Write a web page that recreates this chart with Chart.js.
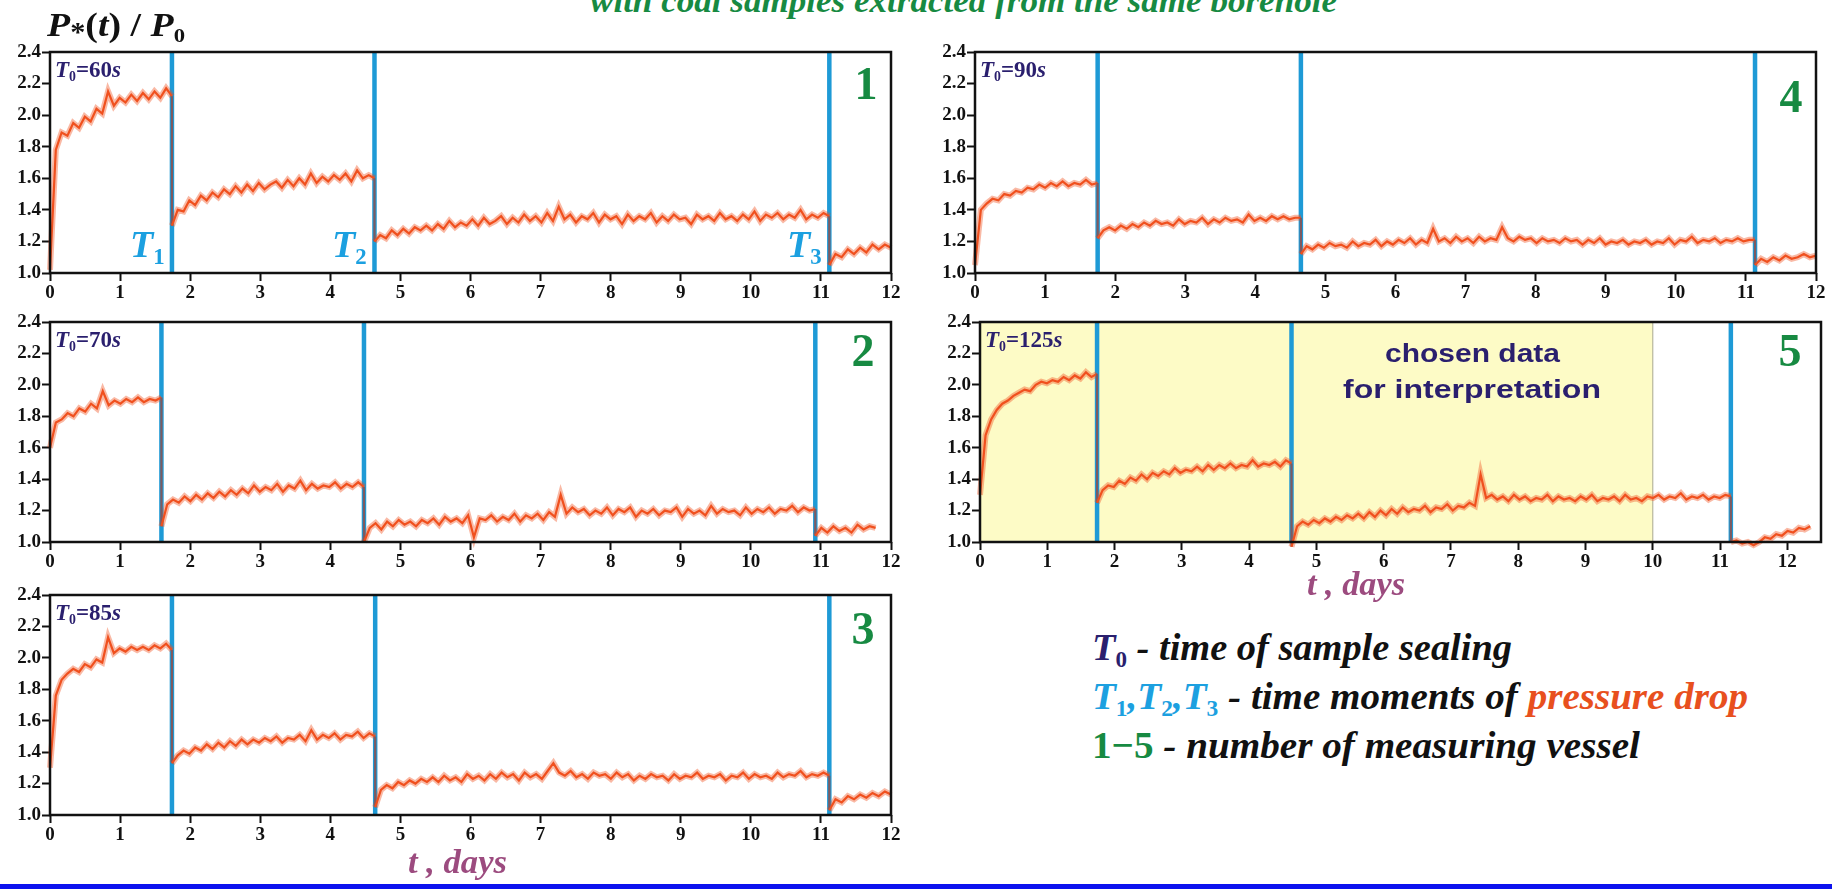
<!DOCTYPE html>
<html>
<head>
<meta charset="utf-8">
<script src="https://cdn.jsdelivr.net/npm/chart.js@4.4.1/dist/chart.umd.min.js"></script>
<style>
  body { margin: 0; width: 1832px; height: 889px; overflow: hidden; background: #fff; position: relative; }
  .panel { position: absolute; }
  .txt { position: absolute; white-space: nowrap; line-height: 1; font-weight: bold; transform-origin: 0 0; }
  .sb { font-size: .6em; vertical-align: -.3em; font-style: normal; }
  #bar { position: absolute; left: 0; top: 884px; width: 1832px; height: 5px; background: #0c12ee; }
</style>
</head>
<body>
<div id="bar"></div>
<script>
// axes
const yTicks = [1.0, 1.2, 1.4, 1.6, 1.8, 2.0, 2.2, 2.4];
const xTicks = [0, 1, 2, 3, 4, 5, 6, 7, 8, 9, 10, 11, 12];
const vesselNames = ['1', '2', '3', '4', '5'];
const sealTimes = ['60', '70', '85', '90', '125'];
const chosenRange = [0, 10]; // vessel 5, days used for interpretation

// vessel 1 (T0 = 60 s)
const p1Drops = [1.74, 4.63, 11.12];
const p1End = 12;
const p1Seg1 = [1.02, 1.78, 1.89, 1.87, 1.95, 1.92, 1.99, 1.96, 2.04, 2.01, 2.15, 2.06, 2.11, 2.08, 2.13, 2.09, 2.14, 2.10, 2.15, 2.11, 2.17, 2.12];
const p1Seg2 = [1.30, 1.40, 1.39, 1.46, 1.43, 1.49, 1.46, 1.51, 1.48, 1.53, 1.50, 1.55, 1.51, 1.56, 1.52, 1.57, 1.53, 1.56, 1.58, 1.54,
  1.59, 1.55, 1.60, 1.56, 1.63, 1.57, 1.61, 1.58, 1.62, 1.59, 1.63, 1.58, 1.65, 1.60, 1.62, 1.60];
const p1Seg3 = [1.20, 1.24, 1.22, 1.27, 1.24, 1.28, 1.25, 1.29, 1.27, 1.30, 1.27, 1.31, 1.28, 1.33, 1.29, 1.32, 1.30, 1.34, 1.30, 1.35,
  1.31, 1.33, 1.36, 1.31, 1.35, 1.32, 1.37, 1.33, 1.36, 1.32, 1.38, 1.33, 1.42, 1.34, 1.37, 1.32, 1.36, 1.34, 1.38, 1.32,
  1.37, 1.34, 1.36, 1.31, 1.37, 1.33, 1.36, 1.34, 1.38, 1.32, 1.36, 1.33, 1.37, 1.34, 1.35, 1.31, 1.37, 1.34, 1.36, 1.33,
  1.38, 1.34, 1.36, 1.33, 1.37, 1.34, 1.39, 1.33, 1.37, 1.35, 1.38, 1.34, 1.37, 1.35, 1.40, 1.34, 1.37, 1.35, 1.38, 1.36];
const p1Seg4 = [1.05, 1.12, 1.10, 1.15, 1.12, 1.16, 1.13, 1.18, 1.15, 1.18, 1.16];

// vessel 2 (T0 = 70 s)
const p2Drops = [1.59, 4.48, 10.92];
const p2End = 11.78;
const p2Seg1 = [1.60, 1.76, 1.78, 1.82, 1.80, 1.85, 1.83, 1.88, 1.85, 1.96, 1.87, 1.90, 1.88, 1.91, 1.89, 1.92, 1.89, 1.91, 1.90, 1.92];
const p2Seg2 = [1.10, 1.24, 1.27, 1.25, 1.29, 1.26, 1.30, 1.27, 1.31, 1.28, 1.32, 1.29, 1.33, 1.30, 1.34, 1.31, 1.36, 1.32, 1.35, 1.33,
  1.37, 1.32, 1.36, 1.34, 1.39, 1.33, 1.37, 1.34, 1.36, 1.35, 1.38, 1.34, 1.37, 1.35, 1.38, 1.35];
const p2Seg3 = [1.00, 1.09, 1.12, 1.08, 1.13, 1.10, 1.14, 1.11, 1.13, 1.10, 1.14, 1.12, 1.15, 1.11, 1.16, 1.13, 1.15, 1.12, 1.17, 1.03,
  1.15, 1.14, 1.17, 1.13, 1.16, 1.14, 1.18, 1.13, 1.17, 1.15, 1.18, 1.14, 1.19, 1.16, 1.30, 1.18, 1.22, 1.19, 1.21, 1.17,
  1.20, 1.18, 1.22, 1.17, 1.21, 1.19, 1.22, 1.16, 1.20, 1.18, 1.21, 1.17, 1.20, 1.19, 1.22, 1.16, 1.21, 1.18, 1.20, 1.17,
  1.23, 1.18, 1.21, 1.19, 1.20, 1.17, 1.22, 1.18, 1.21, 1.19, 1.22, 1.18, 1.21, 1.20, 1.23, 1.19, 1.22, 1.20, 1.21];
const p2Seg4 = [1.04, 1.09, 1.06, 1.10, 1.07, 1.09, 1.06, 1.11, 1.08, 1.10, 1.09];

// vessel 3 (T0 = 85 s)
const p3Drops = [1.74, 4.64, 11.12];
const p3End = 12;
const p3Seg1 = [1.30, 1.76, 1.86, 1.90, 1.93, 1.91, 1.96, 1.94, 1.99, 1.97, 2.13, 2.03, 2.06, 2.04, 2.07, 2.05, 2.07, 2.05, 2.08, 2.06, 2.09, 2.05];
const p3Seg2 = [1.33, 1.38, 1.41, 1.39, 1.43, 1.41, 1.45, 1.42, 1.46, 1.43, 1.47, 1.44, 1.48, 1.45, 1.48, 1.46, 1.49, 1.47, 1.50, 1.46,
  1.49, 1.48, 1.51, 1.47, 1.54, 1.48, 1.51, 1.49, 1.52, 1.48, 1.51, 1.50, 1.53, 1.49, 1.52, 1.50];
const p3Seg3 = [1.05, 1.16, 1.19, 1.17, 1.21, 1.19, 1.22, 1.20, 1.23, 1.21, 1.24, 1.21, 1.25, 1.22, 1.24, 1.21, 1.26, 1.23, 1.25, 1.22,
  1.26, 1.23, 1.27, 1.24, 1.26, 1.22, 1.27, 1.24, 1.26, 1.23, 1.28, 1.33, 1.27, 1.25, 1.28, 1.24, 1.26, 1.23, 1.27, 1.25,
  1.26, 1.23, 1.27, 1.24, 1.26, 1.22, 1.25, 1.23, 1.26, 1.24, 1.25, 1.22, 1.26, 1.23, 1.25, 1.24, 1.27, 1.23, 1.25, 1.24,
  1.26, 1.22, 1.25, 1.24, 1.27, 1.23, 1.26, 1.24, 1.25, 1.23, 1.27, 1.24, 1.26, 1.25, 1.28, 1.24, 1.26, 1.25, 1.27, 1.25];
const p3Seg4 = [1.03, 1.10, 1.08, 1.12, 1.10, 1.13, 1.11, 1.14, 1.12, 1.15, 1.13];

// vessel 4 (T0 = 90 s)
const p4Drops = [1.75, 4.65, 11.13];
const p4End = 12;
const p4Seg1 = [1.05, 1.40, 1.44, 1.47, 1.46, 1.50, 1.49, 1.52, 1.51, 1.54, 1.53, 1.56, 1.54, 1.57, 1.55, 1.58, 1.55, 1.57, 1.56, 1.59, 1.56, 1.57];
const p4Seg2 = [1.22, 1.27, 1.29, 1.27, 1.30, 1.28, 1.31, 1.29, 1.32, 1.30, 1.33, 1.31, 1.32, 1.30, 1.34, 1.31, 1.33, 1.32, 1.35, 1.31,
  1.34, 1.32, 1.35, 1.33, 1.34, 1.32, 1.37, 1.33, 1.35, 1.33, 1.36, 1.34, 1.36, 1.34, 1.35, 1.35];
const p4Seg3 = [1.12, 1.17, 1.15, 1.18, 1.16, 1.19, 1.17, 1.18, 1.16, 1.20, 1.17, 1.19, 1.18, 1.21, 1.17, 1.20, 1.18, 1.21, 1.19, 1.22,
  1.18, 1.21, 1.19, 1.28, 1.20, 1.22, 1.19, 1.23, 1.20, 1.22, 1.19, 1.23, 1.20, 1.22, 1.21, 1.29, 1.22, 1.20, 1.23, 1.21,
  1.22, 1.19, 1.22, 1.20, 1.21, 1.19, 1.22, 1.20, 1.21, 1.18, 1.21, 1.19, 1.22, 1.18, 1.20, 1.19, 1.21, 1.18, 1.20, 1.19,
  1.21, 1.18, 1.20, 1.19, 1.22, 1.18, 1.21, 1.20, 1.23, 1.19, 1.21, 1.20, 1.22, 1.19, 1.21, 1.20, 1.22, 1.20, 1.21, 1.21];
const p4Seg4 = [1.05, 1.09, 1.07, 1.10, 1.08, 1.11, 1.09, 1.10, 1.12, 1.10, 1.11];

// vessel 5 (T0 = 125 s)
const p5Drops = [1.74, 4.63, 11.16];
const p5End = 12.34;
const p5Seg1 = [1.30, 1.68, 1.78, 1.84, 1.88, 1.90, 1.93, 1.95, 1.97, 1.96, 2.00, 2.02, 2.01, 2.03, 2.02, 2.05, 2.03, 2.06, 2.04, 2.08, 2.05, 2.07];
const p5Seg2 = [1.25, 1.33, 1.36, 1.35, 1.39, 1.37, 1.41, 1.39, 1.43, 1.40, 1.44, 1.42, 1.45, 1.43, 1.47, 1.44, 1.46, 1.45, 1.48, 1.45,
  1.49, 1.46, 1.49, 1.47, 1.50, 1.47, 1.49, 1.48, 1.52, 1.48, 1.50, 1.49, 1.51, 1.48, 1.52, 1.50];
const p5Seg3 = [0.97, 1.10, 1.13, 1.11, 1.14, 1.12, 1.15, 1.13, 1.16, 1.14, 1.17, 1.15, 1.18, 1.15, 1.19, 1.16, 1.20, 1.17, 1.21, 1.18,
  1.22, 1.19, 1.21, 1.20, 1.23, 1.19, 1.22, 1.21, 1.24, 1.20, 1.23, 1.22, 1.25, 1.23, 1.43, 1.28, 1.30, 1.27, 1.29, 1.26,
  1.30, 1.27, 1.29, 1.26, 1.28, 1.27, 1.30, 1.26, 1.29, 1.27, 1.28, 1.26, 1.29, 1.27, 1.30, 1.26, 1.28, 1.27, 1.29, 1.26,
  1.30, 1.27, 1.28, 1.26, 1.29, 1.28, 1.30, 1.27, 1.29, 1.28, 1.31, 1.27, 1.29, 1.28, 1.30, 1.27, 1.29, 1.28, 1.30, 1.29];
const p5Seg4 = [1.00, 1.01, 0.99, 1.00, 0.98, 1.00, 1.03, 1.02, 1.05, 1.04, 1.07, 1.06, 1.09, 1.08, 1.10];

const RED = '#f0501e', HALO = 'rgba(240, 80, 30, 0.4)', BLUE = '#1e9ad6', DROP = '#7e5a60';
const NAVY = '#2a1f6e', GREEN = '#178a42', CYAN = '#1ca0e0', MAUVE = '#9c4b7f', ORANGE = '#e8501e';

// page layout of each plot frame
const panels = [
  { left: 50, top: 52, right: 891, bottom: 273, xMax: 12, drops: p1Drops, end: p1End, segs: [p1Seg1, p1Seg2, p1Seg3, p1Seg4], num: [866, 100] },
  { left: 50, top: 322, right: 891, bottom: 542, xMax: 12, drops: p2Drops, end: p2End, segs: [p2Seg1, p2Seg2, p2Seg3, p2Seg4], num: [863, 367] },
  { left: 50, top: 595, right: 891, bottom: 815, xMax: 12, drops: p3Drops, end: p3End, segs: [p3Seg1, p3Seg2, p3Seg3, p3Seg4], num: [863, 645] },
  { left: 975, top: 52, right: 1816, bottom: 273, xMax: 12, drops: p4Drops, end: p4End, segs: [p4Seg1, p4Seg2, p4Seg3, p4Seg4], num: [1791, 113] },
  { left: 980, top: 322, right: 1821, bottom: 542, xMax: 12.5, drops: p5Drops, end: p5End, segs: [p5Seg1, p5Seg2, p5Seg3, p5Seg4], num: [1790, 367], shade: chosenRange }
];

// spread each segment's readings between its start day and the next pressure drop
function trace(drops, end, segs) {
  const bounds = [0, ...drops, end];
  const pts = [];
  segs.forEach((vals, k) => {
    const a = bounds[k], b = bounds[k + 1];
    vals.forEach((v, i) => pts.push({ x: a + (b - a) * i / (vals.length - 1), y: v }));
  });
  return pts;
}
const isDrop = c => Math.abs(c.p0.parsed.x - c.p1.parsed.x) < 1e-6;

const framePlugin = {
  id: 'frame',
  beforeDatasetsDraw(chart) {
    const range = chart.options.plugins.frame.shade;
    if (!range) return;
    const { ctx, chartArea: a, scales: { x } } = chart;
    const x0 = x.getPixelForValue(range[0]), x1 = x.getPixelForValue(range[1]);
    ctx.save();
    ctx.fillStyle = '#fdfbc6';
    ctx.fillRect(x0, a.top, x1 - x0, a.bottom - a.top);
    ctx.strokeStyle = '#a9a892';
    ctx.lineWidth = 1;
    ctx.beginPath(); ctx.moveTo(x1, a.top); ctx.lineTo(x1, a.bottom); ctx.stroke();
    ctx.restore();
  },
  afterDatasetsDraw(chart) {
    const { ctx, chartArea: a } = chart;
    ctx.save();
    ctx.strokeStyle = '#111';
    ctx.lineWidth = 2.5;
    ctx.strokeRect(a.left, a.top, a.right - a.left, a.bottom - a.top);
    ctx.restore();
  }
};

function makePanel(p) {
  const YW = 45, PT = 14, PR = 16, XH = 36;
  const box = document.createElement('div');
  box.className = 'panel';
  const w = p.right - p.left + YW + PR, h = p.bottom - p.top + PT + XH;
  box.style.left = (p.left - YW) + 'px';
  box.style.top = (p.top - PT) + 'px';
  const cv = document.createElement('canvas');
  cv.width = w; cv.height = h;
  box.appendChild(cv);
  document.body.appendChild(box);

  const pts = trace(p.drops, p.end, p.segs);
  const datasets = [{
    data: pts, borderColor: RED, borderWidth: 2.2, pointRadius: 0, tension: 0, order: 0, clip: 8,
    segment: { borderColor: c => isDrop(c) ? DROP : undefined }
  }, {
    // soft band around the trace, like the scatter of the raw readings
    data: pts, borderColor: HALO, borderWidth: 6, pointRadius: 0, tension: 0, order: 1, clip: 8,
    segment: { borderColor: c => isDrop(c) ? 'rgba(0,0,0,0)' : undefined }
  }];
  p.drops.forEach(d => datasets.push({
    data: [{ x: d, y: yTicks[0] }, { x: d, y: yTicks[yTicks.length - 1] }],
    borderColor: BLUE, borderWidth: 4.5, pointRadius: 0, order: 2, borderCapStyle: 'butt'
  }));

  const tickFont = { family: '"Liberation Serif", "Times New Roman", serif', size: 19, weight: 'bold' };
  const grid = { display: true, drawOnChartArea: false, drawTicks: true, tickLength: 8, tickWidth: 2, tickColor: '#111' };
  new Chart(cv, {
    type: 'line',
    data: { datasets },
    options: {
      responsive: false, animation: false, events: [],
      layout: { padding: { top: PT, right: PR, left: 0, bottom: 0 } },
      plugins: { legend: { display: false }, tooltip: { enabled: false }, frame: { shade: p.shade || null } },
      scales: {
        x: {
          type: 'linear', min: 0, max: p.xMax,
          afterBuildTicks: s => { s.ticks = xTicks.map(v => ({ value: v })); },
          afterFit: s => { s.height = XH; },
          ticks: { autoSkip: false, maxRotation: 0, padding: 1, color: '#111', font: tickFont, callback: v => String(v) },
          grid, border: { display: false }
        },
        y: {
          min: yTicks[0], max: yTicks[yTicks.length - 1],
          afterBuildTicks: s => { s.ticks = yTicks.map(v => ({ value: v })); },
          afterFit: s => { s.width = YW; },
          ticks: { padding: 1, color: '#111', font: tickFont, callback: v => v.toFixed(1) },
          grid, border: { display: false }
        }
      }
    },
    plugins: [framePlugin]
  });
}
panels.forEach(makePanel);

// text placed by its baseline; optional fit to a measured width
function label(x, base, size, html, o = {}) {
  const d = document.createElement('div');
  d.className = 'txt';
  d.innerHTML = html;
  d.style.fontFamily = o.sans ? '"Liberation Sans", Arial, sans-serif' : '"Liberation Serif", "Times New Roman", serif';
  d.style.fontSize = size + 'px';
  d.style.color = o.color || '#111';
  if (o.italic) d.style.fontStyle = 'italic';
  d.style.top = (base - size * (o.sans ? 0.8465 : 0.8375)) + 'px';
  document.body.appendChild(d);
  const w = d.getBoundingClientRect().width;
  const k = o.width ? o.width / w : 1;
  d.style.left = (o.center ? x - w * k / 2 : x) + 'px';
  d.style.transform = `scaleX(${k})`;
}

label(590, 12, 34, 'with coal samples extracted from the same borehole', { italic: true, color: GREEN, width: 747 });
label(47, 37, 33, '<i>P</i><span class="sb" style="font-size:.8em;vertical-align:-.2em">*</span>(<i>t</i>) / <i>P</i><span class="sb">0</span>', { width: 138 });

panels.forEach((p, i) => {
  label(p.left + 5, p.top + 25, 23, `<i>T</i><span class="sb">0</span>=${sealTimes[i]}<i>s</i>`, { color: NAVY });
  label(p.num[0], p.num[1], 46, vesselNames[i], { color: GREEN, center: true });
});

[130, 332, 787].forEach((x, i) => label(x, 257, 38, `<i>T</i><span class="sb">${i + 1}</span>`, { color: CYAN }));

label(1472, 362, 26, 'chosen data', { sans: true, color: NAVY, width: 175, center: true });
label(1472, 398, 26, 'for interpretation', { sans: true, color: NAVY, width: 258, center: true });

label(1307, 595, 34, 't , days', { italic: true, color: MAUVE, width: 98 });
label(408, 873, 34, 't , days', { italic: true, color: MAUVE, width: 99 });

label(1092, 660, 38, `<span style="color:${NAVY}">T<span class="sb">0</span></span> - time of sample sealing`, { italic: true, width: 420 });
label(1092, 709, 38, `<span style="color:${CYAN}">T<span class="sb">1</span>,T<span class="sb">2</span>,T<span class="sb">3</span></span> - time moments of <span style="color:${ORANGE}">pressure drop</span>`, { italic: true, width: 656 });
label(1092, 758, 38, `<span style="color:${GREEN};font-style:normal">1\u22125</span> - number of measuring vessel`, { italic: true, width: 548 });
</script>
</body>
</html>
